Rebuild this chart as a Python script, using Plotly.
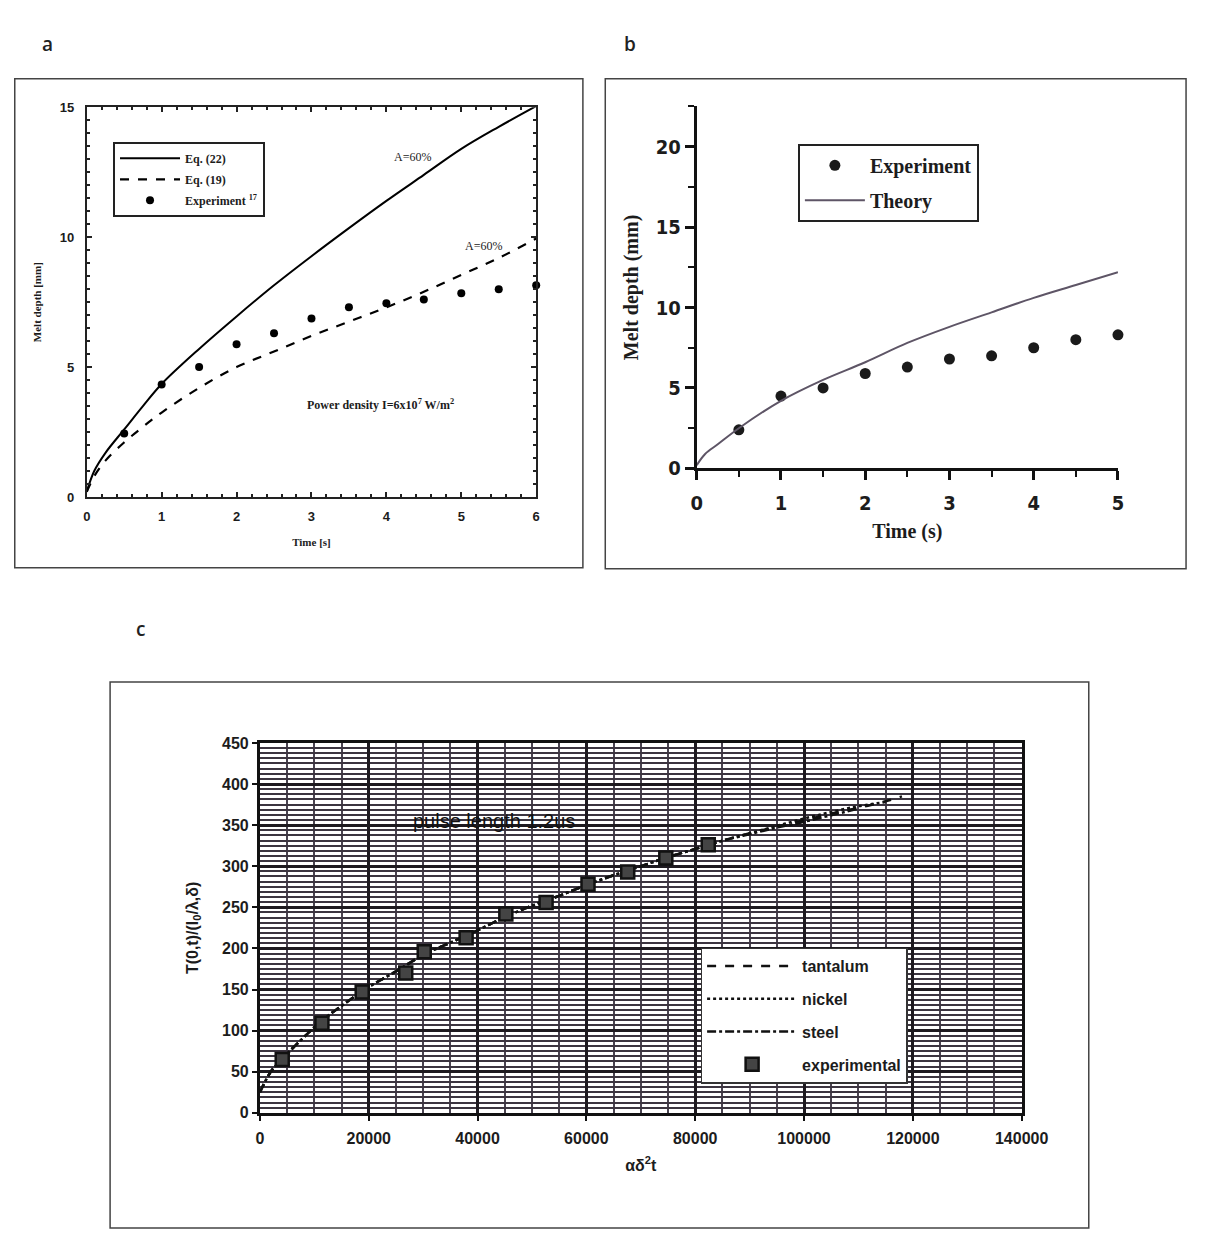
import plotly.graph_objects as go

W, H = 1215, 1236

# ---------------- Panel a data ----------------
a_t_curve = [0, 0.1, 0.25, 0.5, 0.75, 1, 1.5, 2, 2.5, 3, 3.5, 4, 4.5, 5, 5.5, 6]
a_eq22 = [0.2, 1.0, 1.7, 2.6, 3.5, 4.35, 5.7, 6.95, 8.15, 9.27, 10.35, 11.4, 12.4, 13.4, 14.25, 15.05]
a_eq19 = [0.2, 0.8, 1.4, 2.1, 2.7, 3.25, 4.2, 5.0, 5.6, 6.2, 6.75, 7.3, 7.9, 8.55, 9.2, 9.95]
a_t_exp = [0.5, 1, 1.5, 2, 2.5, 3, 3.5, 4, 4.5, 5, 5.5, 6]
a_exp = [2.44, 4.33, 5.0, 5.88, 6.3, 6.87, 7.3, 7.46, 7.6, 7.84, 8.0, 8.15]

# ---------------- Panel b data ----------------
b_t_theory = [0, 0.1, 0.25, 0.5, 1, 1.5, 2, 2.5, 3, 3.5, 4, 4.5, 5]
b_theory = [0.2, 0.9, 1.5, 2.5, 4.2, 5.5, 6.6, 7.8, 8.8, 9.7, 10.6, 11.4, 12.2]
b_t_exp = [0.5, 1, 1.5, 2, 2.5, 3, 3.5, 4, 4.5, 5]
b_exp = [2.4, 4.5, 5.0, 5.9, 6.3, 6.8, 7.0, 7.5, 8.0, 8.3]

# ---------------- Panel c data ----------------
c_x_curve = [0, 2000, 4000, 7000, 11000, 15000, 20000, 25000, 30000, 35000, 40000, 45000,
             50000, 55000, 60000, 65000, 70000, 75000, 80000, 85000, 90000, 95000, 100000,
             105000, 110000, 115000, 118000]
c_tantalum = [25, 50, 65, 85, 110, 130, 153, 172, 192, 207, 222, 238, 252, 264, 277, 289,
              300, 311, 321, 331, 340, 348, 356, 364, 371, 379, 385]
c_nickel = [25, 50, 65, 85, 110, 130, 153, 172, 192, 207, 222, 238, 252, 264, 277, 289,
            300, 311, 321, 331, 340, 349, 358, 366, 373, 378, None]
c_steel = [25, 50, 65, 85, 110, 130, 153, 172, 192, 207, 222, 238, 252, 264, 277, 289,
           300, 311, 321, 331, 339, 347, 354, 362, 370, None, None]
c_x_exp = [4100, 11400, 18800, 26800, 30200, 37900, 45200, 52600, 60300, 67600, 74600, 82400]
c_exp = [65, 109, 147, 170, 196, 213, 242, 256, 278, 293, 310, 326]

c_xticks = [0, 20000, 40000, 60000, 80000, 100000, 120000, 140000]
c_yticks = [0, 50, 100, 150, 200, 250, 300, 350, 400, 450]


def px(x):
    return x / W


def py(y):
    return 1 - y / H


SERIF = "Liberation Serif, Times New Roman, serif"
NARROW = "Liberation Sans Narrow, Arial Narrow, DejaVu Sans Condensed, Arial, sans-serif"
ARIAL = "Liberation Sans, Arial, sans-serif"
BLACKISH = "#1c1c1c"

fig = go.Figure()

# ---- panel a traces ----
fig.add_trace(go.Scatter(x=a_t_curve, y=a_eq22, mode="lines", name="Eq. (22)",
                         line=dict(color="black", width=2, shape="spline"),
                         xaxis="x", yaxis="y", legend="legend", legendgroup="a1"))
fig.add_trace(go.Scatter(x=a_t_curve, y=a_eq19, mode="lines", name="Eq. (19)",
                         line=dict(color="black", width=2.2, dash="dash", shape="spline"),
                         xaxis="x", yaxis="y", legend="legend", legendgroup="a2"))
fig.add_trace(go.Scatter(x=a_t_exp, y=a_exp, mode="markers", name="Experiment <sup>17</sup>",
                         marker=dict(color="black", size=8), xaxis="x", yaxis="y", legend="legend",
                         legendgroup="a3", cliponaxis=False))

# ---- panel b traces ----
fig.add_trace(go.Scatter(x=b_t_exp, y=b_exp, mode="markers", name="Experiment",
                         marker=dict(color="#1a1a1a", size=11), xaxis="x2", yaxis="y2", legend="legend2",
                         legendgroup="b1", cliponaxis=False))
fig.add_trace(go.Scatter(x=b_t_theory, y=b_theory, mode="lines", name="Theory",
                         line=dict(color="#5e5566", width=2, shape="spline"), xaxis="x2", yaxis="y2",
                         legend="legend2", legendgroup="b2"))

# ---- panel c traces ----
fig.add_trace(go.Scatter(x=c_x_curve, y=c_tantalum, mode="lines", name="tantalum",
                         line=dict(color="#111", width=2.5, dash="dash", shape="spline"),
                         xaxis="x3", yaxis="y3", legend="legend3", legendgroup="c1"))
fig.add_trace(go.Scatter(x=c_x_curve, y=c_nickel, mode="lines", name="nickel",
                         line=dict(color="#111", width=2.5, dash="dot", shape="spline"),
                         xaxis="x3", yaxis="y3", legend="legend3", legendgroup="c2"))
fig.add_trace(go.Scatter(x=c_x_curve, y=c_steel, mode="lines", name="steel",
                         line=dict(color="#111", width=2.5, dash="dashdot", shape="spline"),
                         xaxis="x3", yaxis="y3", legend="legend3", legendgroup="c3"))
fig.add_trace(go.Scatter(x=c_x_exp, y=c_exp, mode="markers", name="experimental",
                         marker=dict(symbol="square", color="#444", size=13, line=dict(color="#111", width=2.5)),
                         xaxis="x3", yaxis="y3", legend="legend3", legendgroup="c4"))

tick_a = dict(family=ARIAL, size=13, color=BLACKISH, weight="bold")

fig.update_layout(
    width=W, height=H,
    margin=dict(l=0, r=0, t=0, b=0),
    paper_bgcolor="white",
    plot_bgcolor="white",
    # ---------- panel a ----------
    xaxis=dict(domain=[px(83), px(545)], anchor="y", range=[0, 6], dtick=1,
               showline=True, linecolor="#222", linewidth=2, mirror="ticks",
               ticks="inside", ticklen=5, tickwidth=1.5, tickcolor="#222",
               minor=dict(dtick=0.2, ticks="inside", ticklen=3, tickcolor="#222"),
               showgrid=False, zeroline=False, tickfont=tick_a, ticklabelstandoff=6,
               title=dict(text="Time [s]", font=dict(family=SERIF, size=11, color=BLACKISH, weight="bold"),
                          standoff=16)),
    yaxis=dict(domain=[py(497), py(101)], anchor="x", range=[0, 15], dtick=5,
               showline=True, linecolor="#222", linewidth=2, mirror="ticks",
               ticks="inside", ticklen=5, tickwidth=1.5, tickcolor="#222",
               minor=dict(dtick=0.5, ticks="inside", ticklen=3, tickcolor="#222"),
               showgrid=False, zeroline=False, tickfont=tick_a, ticklabelstandoff=8,
               title=dict(text="Melt depth [mm]", font=dict(family=SERIF, size=11, color=BLACKISH, weight="bold"),
                          standoff=16)),
    # ---------- panel b ----------
    xaxis2=dict(domain=[px(710), px(1143)], anchor="y2", range=[0, 5], dtick=1,
                showline=True, linecolor="#111", linewidth=3,
                ticks="outside", ticklen=9, tickwidth=3, tickcolor="#111",
                minor=dict(dtick=0.5, ticks="outside", ticklen=6, tickwidth=2, tickcolor="#111"),
                showgrid=False, zeroline=False, ticklabelstandoff=6,
                tickfont=dict(family=NARROW, size=20, color=BLACKISH, weight="bold"),
                title=dict(text="Time (s)", font=dict(family=SERIF, size=20, color=BLACKISH, weight="bold"),
                           standoff=10)),
    yaxis2=dict(domain=[py(468), py(100)], anchor="x2", range=[0, 22.5], tickvals=[0, 5, 10, 15, 20],
                showline=True, linecolor="#111", linewidth=3,
                ticks="outside", ticklen=9, tickwidth=3, tickcolor="#111",
                minor=dict(dtick=2.5, ticks="outside", ticklen=6, tickwidth=2, tickcolor="#111"),
                showgrid=False, zeroline=False,
                tickfont=dict(family=NARROW, size=20, color=BLACKISH, weight="bold"),
                title=dict(text="Melt depth (mm)", font=dict(family=SERIF, size=20, color=BLACKISH, weight="bold"),
                           standoff=12)),
    # ---------- panel c ----------
    xaxis3=dict(domain=[px(261), px(1044)], anchor="y3", range=[0, 140000], tickvals=c_xticks,
                tickformat="d", showline=True, linecolor="#111", linewidth=3, mirror=True,
                ticks="outside", ticklen=5, tickwidth=2, tickcolor="#111",
                showgrid=True, gridcolor="#1e1a20", gridwidth=2.5,
                minor=dict(dtick=5000, showgrid=True, gridcolor="#4a4350", gridwidth=1.5),
                zeroline=False, ticklabelstandoff=4,
                tickfont=dict(family=ARIAL, size=16, color=BLACKISH, weight="bold"),
                title=dict(text="αδ<sup>2</sup>t", font=dict(family=ARIAL, size=16, color=BLACKISH, weight="bold"),
                           standoff=14)),
    yaxis3=dict(domain=[py(1123), py(747)], anchor="x3", range=[0, 450], tickvals=c_yticks,
                showline=True, linecolor="#111", linewidth=3, mirror=True,
                ticks="outside", ticklen=5, tickwidth=2, tickcolor="#111",
                showgrid=True, gridcolor="#1e1a20", gridwidth=2.5,
                minor=dict(dtick=6.25, showgrid=True, gridcolor="#3c3540", gridwidth=1.6),
                zeroline=False,
                tickfont=dict(family=ARIAL, size=16, color=BLACKISH, weight="bold"),
                title=dict(text="T(0,t)/(I<sub>0</sub>/λ,δ)",
                           font=dict(family=ARIAL, size=16, color=BLACKISH, weight="bold"), standoff=20)),
    legend=dict(x=px(110), y=py(136), xanchor="left", yanchor="top",
                bgcolor="white", bordercolor="#222", borderwidth=2,
                font=dict(family=SERIF, size=12, color=BLACKISH, weight="bold"),
                tracegroupgap=2, itemwidth=60),
    legend2=dict(x=px(814), y=py(138), xanchor="left", yanchor="top",
                 bgcolor="white", bordercolor="#222", borderwidth=2,
                 font=dict(family=SERIF, size=20, color=BLACKISH, weight="bold"),
                 tracegroupgap=6, itemwidth=60),
    legend3=dict(x=px(714), y=py(955), xanchor="left", yanchor="top",
                 bgcolor="white", bordercolor="#333", borderwidth=1.5,
                 font=dict(family=ARIAL, size=16, color=BLACKISH, weight="bold"),
                 tracegroupgap=9, itemwidth=90),
    showlegend=True,
)

annotations = [
    # panel a
    dict(x=4.35, y=13.1, xref="x", yref="y", text="A=60%", showarrow=False,
         font=dict(family=SERIF, size=12, color=BLACKISH)),
    dict(x=5.29, y=9.66, xref="x", yref="y", text="A=60%", showarrow=False,
         font=dict(family=SERIF, size=12, color=BLACKISH)),
    dict(x=3.92, y=3.56, xref="x", yref="y",
         text="Power density I=6x10<sup>7</sup> W/m<sup>2</sup>", showarrow=False,
         font=dict(family=SERIF, size=12, color=BLACKISH, weight="bold")),
    # panel c
    dict(x=43100, y=355, xref="x3", yref="y3", text="pulse length 1.2us", showarrow=False,
         font=dict(family=ARIAL, size=20, color="#111")),
    # panel letters
    dict(x=px(35), y=py(21), xref="paper", yref="paper", text="a", showarrow=False,
         font=dict(family="Open Sans, Arial, sans-serif", size=19, color="#222", weight=600)),
    dict(x=px(641), y=py(21), xref="paper", yref="paper", text="b", showarrow=False,
         font=dict(family="Open Sans, Arial, sans-serif", size=19, color="#222", weight=600)),
    dict(x=px(132), y=py(631), xref="paper", yref="paper", text="c", showarrow=False,
         font=dict(family="Open Sans, Arial, sans-serif", size=19, color="#222", weight=600)),
]
fig.update_layout(annotations=annotations)

shapes = [
    dict(type="rect", xref="paper", yref="paper", x0=px(9), x1=px(593), y0=py(569), y1=py(72),
         line=dict(color="#444", width=1.5)),
    dict(type="rect", xref="paper", yref="paper", x0=px(616), x1=px(1213), y0=py(570), y1=py(72),
         line=dict(color="#444", width=1.5)),
    dict(type="rect", xref="paper", yref="paper", x0=px(107), x1=px(1113), y0=py(1240), y1=py(685),
         line=dict(color="#444", width=1.5)),
]
fig.update_layout(shapes=shapes)

fig.write_html("out.html")
